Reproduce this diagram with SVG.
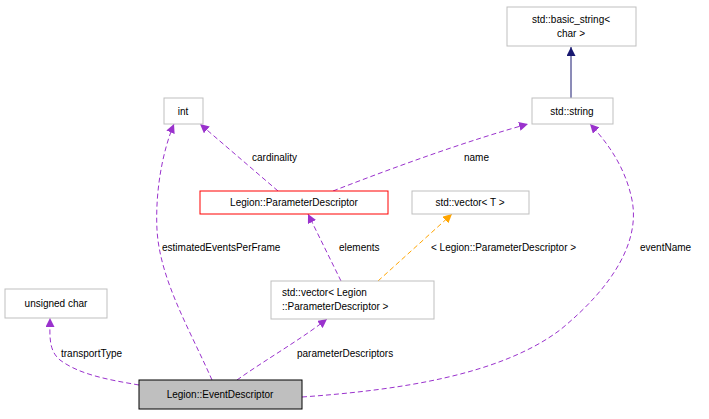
<svg xmlns="http://www.w3.org/2000/svg" width="709" height="419" viewBox="0 0 709 419">
<style>
text{font-family:"Liberation Sans",Arial,sans-serif;font-size:10px;fill:#000}
.n{fill:#fff;stroke:#bfbfbf;stroke-width:1}
.e{fill:none;stroke:#9a32cd;stroke-width:1;stroke-dasharray:5,3}
.o{fill:none;stroke:#ffa500;stroke-width:1;stroke-dasharray:5,3}
.m{text-anchor:middle}
</style>
<defs>
<marker id="ap" viewBox="0 0 10 10" refX="10" refY="5" markerWidth="9" markerHeight="9" markerUnits="userSpaceOnUse" orient="auto"><path d="M0,0L10,5L0,10z" fill="#9a32cd"/></marker>
<marker id="ao" viewBox="0 0 10 10" refX="10" refY="5" markerWidth="9" markerHeight="9" markerUnits="userSpaceOnUse" orient="auto"><path d="M0,0L10,5L0,10z" fill="#ffa500"/></marker>
<marker id="an" viewBox="0 0 10 10" refX="10" refY="5" markerWidth="9" markerHeight="9" markerUnits="userSpaceOnUse" orient="auto"><path d="M0,0L10,5L0,10z" fill="#191970"/></marker>
</defs>
<g id="connectors">
<path d="M571,98V47" fill="none" stroke="#191970" marker-end="url(#an)"/>
<path class="e" d="M278,191L200,124" marker-end="url(#ap)"/>
<path class="e" d="M333,191C400,165 470,140 528,124" marker-end="url(#ap)"/>
<path class="e" d="M341,281L308,214" marker-end="url(#ap)"/>
<path class="o" d="M378,281L452,214" marker-end="url(#ao)"/>
<path class="e" d="M212,380C190,330 160,280 157,230C155,190 163,150 174,124" marker-end="url(#ap)"/>
<path class="e" d="M237,380C265,360 300,340 327,319" marker-end="url(#ap)"/>
<path class="e" d="M139,385C110,380 80,375 60,360C48,350 50,335 50,318" marker-end="url(#ap)"/>
<path class="e" d="M302,397C400,390 500,375 560,330C615,285 640,240 632,200C625,165 605,140 590,124" marker-end="url(#ap)"/>
</g>
<g id="basic_string"><rect class="n" x="507" y="7" width="129" height="39"/><text class="m" x="571" y="23">std::basic_string&lt;</text><text class="m" x="571" y="37">char &gt;</text></g>
<g id="std_string"><rect class="n" x="532" y="98" width="81" height="26"/><text class="m" x="572" y="115">std::string</text></g>
<g id="int"><rect class="n" x="164" y="98" width="39" height="26"/><text class="m" x="183" y="115">int</text></g>
<g id="ParameterDescriptor"><rect x="200" y="191" width="188" height="23" fill="#fff" stroke="#ff0000"/><text class="m" x="294" y="206">Legion::ParameterDescriptor</text></g>
<g id="vectorT"><rect class="n" x="412" y="191" width="117" height="23"/><text class="m" x="470" y="206">std::vector&lt; T &gt;</text></g>
<g id="vectorPD"><rect class="n" x="271" y="281" width="163" height="38"/><text x="282" y="296">std::vector&lt; Legion</text><text x="282" y="310">::ParameterDescriptor &gt;</text></g>
<g id="unsigned_char"><rect class="n" x="5" y="289" width="102" height="29"/><text class="m" x="56" y="307">unsigned char</text></g>
<g id="EventDescriptor"><rect x="139" y="380" width="163" height="29" fill="#bfbfbf" stroke="#000"/><text class="m" x="220" y="398">Legion::EventDescriptor</text></g>
<g id="labels">
<text x="252" y="161">cardinality</text>
<text x="464" y="161">name</text>
<text x="162" y="251">estimatedEventsPerFrame</text>
<text x="339" y="251">elements</text>
<text x="431" y="251">&lt; Legion::ParameterDescriptor &gt;</text>
<text x="640" y="251">eventName</text>
<text x="61" y="357">transportType</text>
<text x="297" y="357">parameterDescriptors</text>
</g>
</svg>
